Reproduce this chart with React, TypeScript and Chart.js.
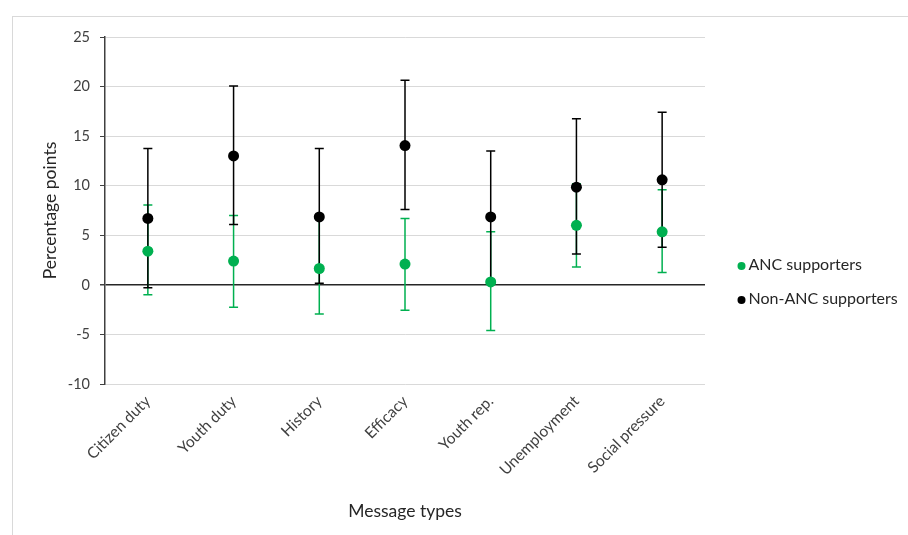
import React, { useEffect, useRef } from "react";
import { Chart, registerables } from "chart.js";

Chart.register(...registerables);

const categories = ["Citizen duty", "Youth duty", "History", "Efficacy", "Youth rep.", "Unemployment", "Social pressure"];
const ancMean = [3.4, 2.4, 1.65, 2.1, 0.3, 6.0, 5.35];
const ancLow = [-1.0, -2.25, -2.95, -2.55, -4.6, 1.8, 1.25];
const ancHigh = [8.05, 7.0, 6.7, 6.7, 5.35, 10.2, 9.6];
const nonMean = [6.7, 13.0, 6.85, 14.05, 6.85, 9.85, 10.6];
const nonLow = [-0.3, 6.1, 0.15, 7.6, 0.2, 3.1, 3.8];
const nonHigh = [13.75, 20.05, 13.75, 20.65, 13.5, 16.75, 17.4];
const yTicks = { min: -10, max: 25, step: 5 };

const GREEN = "#00B050";
const BLACK = "#000000";
const FONT = "Lato, 'Open Sans', sans-serif";
const TEXT = "#404040";

const errorBarPlugin = {
  id: "errorBars",
  beforeDatasetsDraw(chart: any) {
    const ctx = chart.ctx;
    const yScale = chart.scales.y;
    chart.data.datasets.forEach((ds: any, i: number) => {
      const meta = chart.getDatasetMeta(i);
      ctx.save();
      ctx.strokeStyle = ds.backgroundColor;
      ctx.lineWidth = 1.5;
      meta.data.forEach((pt: any, j: number) => {
        const x = pt.x;
        const yl = yScale.getPixelForValue(ds.errLow[j]);
        const yh = yScale.getPixelForValue(ds.errHigh[j]);
        ctx.beginPath();
        ctx.moveTo(x, yl);
        ctx.lineTo(x, yh);
        ctx.moveTo(x - 4.5, yl);
        ctx.lineTo(x + 4.5, yl);
        ctx.moveTo(x - 4.5, yh);
        ctx.lineTo(x + 4.5, yh);
        ctx.stroke();
      });
      ctx.restore();
    });
  },
};

const framePlugin = {
  id: "frame",
  beforeDraw(chart: any) {
    const ctx = chart.ctx;
    ctx.save();
    ctx.fillStyle = "#ffffff";
    ctx.fillRect(0, 0, chart.width, chart.height);
    ctx.strokeStyle = "#d9d9d9";
    ctx.lineWidth = 1;
    ctx.strokeRect(12.5, 16.5, chart.width, chart.height);
    ctx.restore();
  },
  afterDraw(chart: any) {
    const ctx = chart.ctx;
    const area = chart.chartArea;
    ctx.save();
    ctx.font = `16px ${FONT}`;
    ctx.textBaseline = "middle";
    ctx.textAlign = "left";
    const x0 = area.right + 36.5;
    const ys = [265, 299];
    chart.data.datasets.forEach((ds: any, i: number) => {
      ctx.fillStyle = ds.backgroundColor;
      ctx.beginPath();
      ctx.arc(x0, ys[i] + 1, 4, 0, Math.PI * 2);
      ctx.fill();
      ctx.fillStyle = "#262626";
      ctx.fillText(ds.label, x0 + 7, ys[i]);
    });
    ctx.restore();
  },
};

export default function App() {
  const ref = useRef<HTMLCanvasElement>(null);
  useEffect(() => {
    if (!ref.current) return;
    const chart = new Chart(ref.current, {
      type: "line",
      data: {
        labels: categories,
        datasets: [
          {
            label: "ANC supporters",
            data: ancMean,
            errLow: ancLow,
            errHigh: ancHigh,
            backgroundColor: GREEN,
            borderColor: GREEN,
            showLine: false,
            pointRadius: 5.5,
            pointBorderWidth: 0,
            pointBackgroundColor: GREEN,
          } as any,
          {
            label: "Non-ANC supporters",
            data: nonMean,
            errLow: nonLow,
            errHigh: nonHigh,
            backgroundColor: BLACK,
            borderColor: BLACK,
            showLine: false,
            pointRadius: 5.5,
            pointBorderWidth: 0,
            pointBackgroundColor: BLACK,
          } as any,
        ],
      },
      options: {
        animation: false,
        responsive: false,
        layout: { padding: { left: 36, top: 37, right: 203, bottom: 0 } },
        plugins: { legend: { display: false }, tooltip: { enabled: false } },
        scales: {
          x: {
            type: "category",
            offset: true,
            grid: { display: false, drawTicks: false },
            border: { display: false },
            ticks: {
              minRotation: 45,
              maxRotation: 45,
              padding: 8,
              color: TEXT,
              font: { family: FONT, size: 15.5 },
            },
            title: {
              display: true,
              text: "Message types",
              color: "#262626",
              font: { family: FONT, size: 17.5 },
              padding: { top: 4, bottom: 13 },
            },
            afterFit: (scale: any) => {
              scale.height = 151;
            },
          },
          y: {
            min: yTicks.min,
            max: yTicks.max,
            ticks: {
              stepSize: yTicks.step,
              padding: 10,
              color: TEXT,
              font: { family: FONT, size: 14.5 },
            },
            grid: {
              color: (c: any) => (c.tick && c.tick.value === 0 ? "#262626" : "#d9d9d9"),
              lineWidth: (c: any) => (c.tick && c.tick.value === 0 ? 1.5 : 1),
              tickColor: "#404040",
              tickLength: 5,
            },
            border: { color: "#404040", width: 1.5 },
            title: {
              display: true,
              text: "Percentage points",
              color: "#262626",
              font: { family: FONT, size: 17.5 },
              padding: { top: 4, bottom: 4 },
            },
            afterFit: (scale: any) => {
              scale.width = 69;
            },
          },
        },
      },
      plugins: [framePlugin, errorBarPlugin],
    });
    return () => chart.destroy();
  }, []);
  return (
    <div style={{ position: "fixed", left: 0, top: 0, width: 908, height: 535, background: "#fff" }}>
      <canvas ref={ref} width={908} height={535} />
    </div>
  );
}
